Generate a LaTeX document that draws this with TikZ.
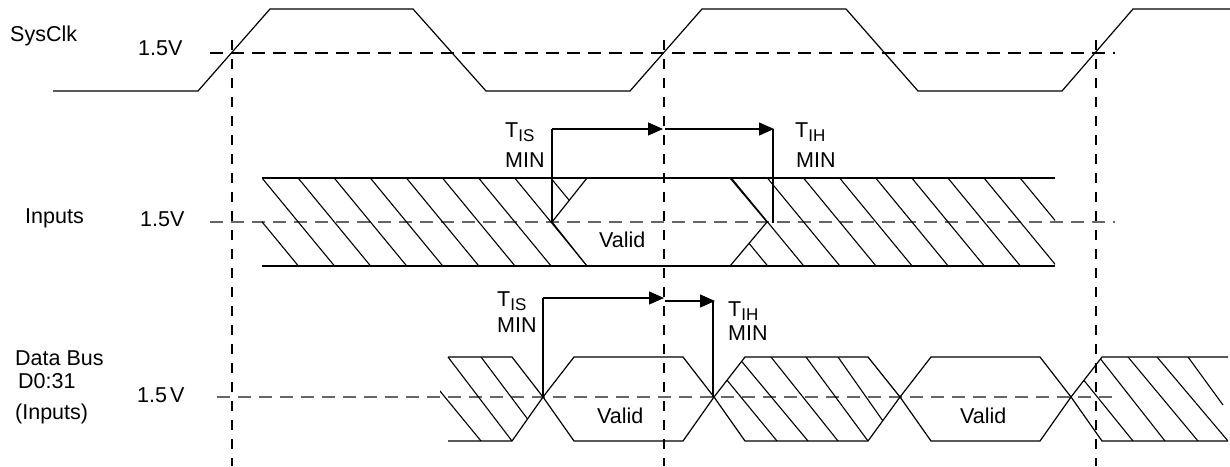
\documentclass[tikz,border=0pt]{standalone}
\usepackage{fontspec}
\setmainfont{Liberation Sans}
\usetikzlibrary{arrows.meta}
\tikzset{
  wave/.style={line width=1.2pt, line join=miter},
  hatch/.style={line width=1.1pt},
  vdash/.style={line width=1.2pt, dash pattern=on 10pt off 9pt},
  hdash/.style={line width=1.2pt, dash pattern=on 13pt off 8pt},
  gdash/.style={line width=1.2pt, dash pattern=on 13pt off 8pt, draw=black!60},
  lbl/.style={anchor=base west, inner sep=0pt, font=\fontsize{21.5}{26}\selectfont},
  tarrow/.style={line width=1.2pt, -{Triangle[length=15pt,width=13pt]}},
  tline/.style={line width=1.2pt}
}
\newcommand{\tsub}[2]{#1\raisebox{-4pt}{\fontsize{17}{17}\selectfont #2}}
\begin{document}
\begin{tikzpicture}[x=1pt,y=-1pt]
\useasboundingbox (0,0) rectangle (1230,466);
% ---- reference dashed lines
\draw[vdash] (232,40) -- (232,466);
\draw[vdash] (664,40) -- (664,466);
\draw[vdash] (1096,40) -- (1096,466);
\draw[hdash] (210,53) -- (1115,53);
\draw[gdash] (210,222) -- (1115,222);
\draw[gdash] (217,397) -- (1118,397);
% ---- SysClk
\draw[wave] (53,91) -- (198,91) -- (270,9) -- (413,9) -- (486,91) -- (630,91) -- (702,9) -- (846,9) -- (918,91) -- (1062,91) -- (1133,9) -- (1230,9);
% ---- Inputs hatching
\begin{scope}
  \clip (262,178) -- (587,178) -- (552,222) -- (587,266) -- (262,266) -- cycle;
  \foreach \k in {-2,...,8} \draw[hatch] ({262+36.1*\k},178) -- ({262+36.1*\k+72.5},266);
\end{scope}
\begin{scope}
  \clip (730,178) -- (1055,178) -- (1055,266) -- (730,266) -- (767,222) -- cycle;
  \foreach \k in {11,...,22} \draw[hatch] ({262+36.1*\k},178) -- ({262+36.1*\k+72.5},266);
\end{scope}
\draw[wave] (262,178) -- (1055,178);
\draw[wave] (262,266) -- (1055,266);
\draw[wave] (587,178) -- (552,222) -- (587,266);
\draw[wave] (730,178) -- (767,222) -- (730,266);
% ---- Data bus hatching
\begin{scope}
  \clip (440,357) -- (512,357) -- (543,397) -- (512,441) -- (440,441) -- cycle;
  \draw[hatch] (448,357) -- (512,441);
  \draw[hatch] (481,357) -- (544,441);
  \draw[hatch] (412,357) -- (481,441);
\end{scope}
\begin{scope}
  \clip (745,357) -- (868,357) -- (900,397) -- (868,441) -- (745,441) -- (714,397) -- cycle;
  \draw[hatch] (708,357) -- (777,441);
  \draw[hatch] (738,357) -- (808,441);
  \draw[hatch] (771,357) -- (838,441);
  \draw[hatch] (806,357) -- (868,441);
  \draw[hatch] (838,357) -- (897,441);
\end{scope}
\begin{scope}
  \clip (1102,357) -- (1228,357) -- (1228,441) -- (1102,441) -- (1071,397) -- cycle;
  \draw[hatch] (1065,357) -- (1133,441);
  \draw[hatch] (1099,357) -- (1165,441);
  \draw[hatch] (1128,357) -- (1198,441);
  \draw[hatch] (1157,357) -- (1228,441);
  \draw[hatch] (1188,357) -- (1223,405);
\end{scope}
% ---- Data bus outline
\draw[wave] (448,357) -- (512,357) -- (543,397) -- (574,441) -- (683,441) -- (714,397) -- (745,357) -- (868,357) -- (900,397) -- (931,441) -- (1040,441) -- (1071,397) -- (1102,357) -- (1228,357);
\draw[wave] (448,441) -- (512,441) -- (543,397) -- (574,357) -- (683,357) -- (714,397) -- (745,441) -- (868,441) -- (900,397) -- (931,357) -- (1040,357) -- (1071,397) -- (1102,441) -- (1228,441);
% ---- timing arrows (Inputs)
\coordinate (iA) at (552,222);
\coordinate (iB) at (552,129);
\coordinate (iC) at (663,129);
\coordinate (iD) at (665,129);
\coordinate (iE) at (774,129);
\coordinate (iF) at (773,223);
\draw[tline] (iA) -- (iB);
\draw[tarrow] (iB) -- (iC);
\draw[tarrow] (iD) -- (iE);
\draw[tline] (iE -| iF) -- (iF);
% ---- timing arrows (Data bus)
\coordinate (dA) at (543,397);
\coordinate (dB) at (543,298);
\coordinate (dC) at (664,298);
\coordinate (dD) at (665,301);
\coordinate (dE) at (715,301);
\coordinate (dF) at (713,397);
\draw[tline] (dA) -- (dB);
\draw[tarrow] (dB) -- (dC);
\draw[tarrow] (dD) -- (dE);
\draw[tline] (dE -| dF) -- (dF);
% ---- labels
\node[lbl] (sysclk) at (10,41) {SysClk};
\node[lbl] (v1) at (138,55) {1.5V};
\node[lbl] (inputs) at (25,223) {Inputs};
\node[lbl] (v2) at (140,226) {1.5V};
\node[lbl] (db1) at (15,365) {Data Bus};
\node[lbl] (db2) at (18,388) {D0:31};
\node[lbl] (db3) at (15,419) {(Inputs)};
\node[lbl] (v3) at (137,402) {1.5\hspace{3pt}V};
\node[lbl] (tis1) at (505,137) {\tsub{T}{IS}};
\node[lbl] (min1) at (505,167) {MIN};
\node[lbl] (tih1) at (795,137) {\tsub{T}{IH}};
\node[lbl] (min2) at (796,167) {MIN};
\node[lbl] (tis2) at (497,306) {\tsub{T}{IS}};
\node[lbl] (min3) at (497,332) {MIN};
\node[lbl] (tih2) at (728,316) {\tsub{T}{IH}};
\node[lbl] (min4) at (728,340) {MIN};
\node[lbl] (val1) at (599,247) {Valid};
\node[lbl] (val2) at (597,423) {Valid};
\node[lbl] (val3) at (960,423) {Valid};
\end{tikzpicture}
\end{document}
